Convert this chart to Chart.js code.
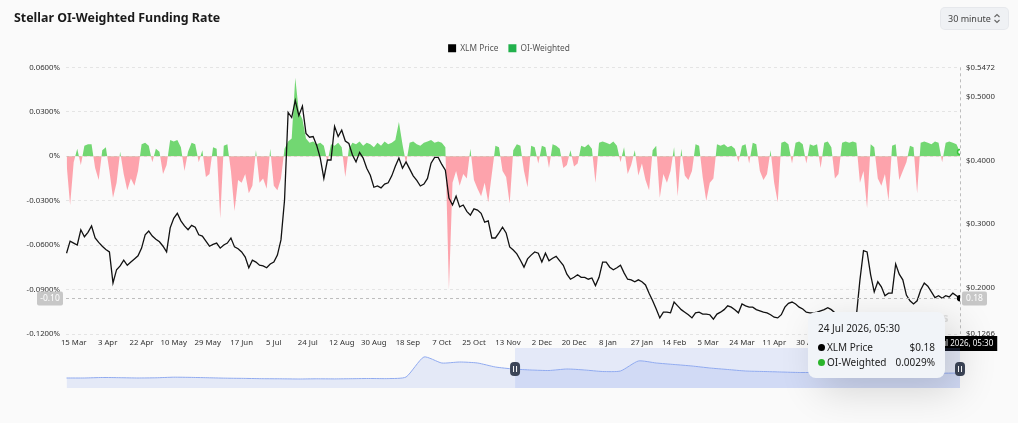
<!DOCTYPE html>
<html><head><meta charset="utf-8">
<script src="https://cdn.jsdelivr.net/npm/chart.js@4.4.1/dist/chart.umd.min.js"></script>
<style>
html,body{margin:0;padding:0;background:#fafafa;width:1018px;height:423px;overflow:hidden;font-family:"Noto Sans",sans-serif;}
#wrap{position:relative;width:1018px;height:423px;}
#main{position:absolute;left:0;top:0;}
#nav{position:absolute;left:56px;top:348px;}
#title{position:absolute;left:14px;top:9px;font-size:12.4px;font-weight:700;color:#1a1a1a;}
#sel{position:absolute;left:941px;top:8px;width:67px;height:21px;border-radius:4px;background:#eff1f4;box-shadow:0 0 0 1px #e6e8ec;box-sizing:border-box;font-size:9px;color:#444;line-height:21px;padding-left:7px;}
#sel svg{position:absolute;right:7px;top:5px;}
#wm{position:absolute;left:893px;top:309px;font-size:12px;font-weight:700;color:#dedede;}
#tip{position:absolute;left:808px;top:312px;width:137px;height:66px;border-radius:8px;background:#f1f4f8;box-shadow:12px 12px 40px rgba(0,0,0,0.16);box-sizing:border-box;padding:8px 10px 0 10px;font-size:10px;color:#222;}
#tip .d{height:16px;line-height:16px;margin-bottom:4px;}
#tip .r{position:relative;height:15px;line-height:15px;padding-left:9px;}
#tip .dot{position:absolute;left:0;top:4px;width:7px;height:7px;border-radius:50%;}
#tip .v{position:absolute;right:0;top:0;}
</style></head>
<body><div id="wrap">
<canvas id="main" width="1018" height="423"></canvas>
<canvas id="nav" width="914" height="40"></canvas>
<div id="title">Stellar OI-Weighted Funding Rate</div>
<div id="sel">30 minute<svg width="8" height="11" viewBox="0 0 8 11"><path d="M1.5 4 L4 1.5 L6.5 4" fill="none" stroke="#666" stroke-width="1.1"/><path d="M1.5 7 L4 9.5 L6.5 7" fill="none" stroke="#666" stroke-width="1.1"/></svg></div>
<div id="wm">coinglass</div>
<div id="tip">
 <div class="d" id="tipDate"></div>
 <div class="r"><span class="dot" style="background:#000"></span>XLM Price<span class="v" id="tipPrice"></span></div>
 <div class="r"><span class="dot" style="background:#2bb52b"></span>OI-Weighted<span class="v" id="tipFund"></span></div>
</div>
</div>
<script>
// ---- data (day offsets counted from 15 Mar 2025) ----
const startDay = -4;
const stepDays = 2;
const xTickLabels = ['15 Mar','3 Apr','22 Apr','10 May','29 May','17 Jun','5 Jul','24 Jul','12 Aug','30 Aug','18 Sep','7 Oct','25 Oct','13 Nov','2 Dec','20 Dec','8 Jan','27 Jan','14 Feb','5 Mar','24 Mar','11 Apr','30 Apr','19 May','7 Jun','26 Jun','15 Jul'];
const xTickDays = [0,19,38,56,75,94,112,131,150,168,187,206,224,243,262,280,299,318,336,355,374,392,411,430,449,468,487];
const priceTicks = [0.1266,0.2,0.3,0.4,0.5,0.5472];
const lastLabel = '24 Jul 2026, 05:30';

const xlmPrice = [
.254,.273,.270,.267,.291,.280,.287,.297,.278,.271,
.265,.260,.256,.207,.228,.234,.243,.235,.240,.245,
.250,.262,.283,.289,.281,.276,.272,.265,.256,.294,
.309,.317,.305,.297,.291,.298,.295,.283,.281,.273,
.265,.268,.270,.262,.267,.270,.278,.264,.261,.256,
.248,.231,.243,.240,.235,.234,.231,.237,.240,.251,
.275,.338,.476,.468,.495,.471,.486,.443,.437,.438,
.424,.404,.372,.401,.401,.454,.438,.448,.431,.427,
.409,.398,.413,.404,.388,.377,.358,.360,.357,.363,
.365,.376,.391,.404,.388,.398,.387,.376,.369,.360,
.363,.372,.396,.405,.405,.394,.385,.341,.330,.344,
.327,.330,.320,.314,.324,.322,.317,.303,.305,.278,
.278,.286,.295,.286,.264,.259,.253,.243,.232,.245,
.251,.256,.254,.240,.254,.242,.246,.249,.242,.235,
.221,.213,.216,.220,.216,.216,.213,.215,.203,.216,
.240,.240,.232,.228,.231,.235,.223,.213,.212,.209,
.212,.209,.204,.191,.179,.166,.152,.161,.161,.160,
.177,.171,.165,.161,.157,.152,.160,.161,.158,.158,
.157,.150,.158,.161,.165,.171,.169,.165,.160,.174,
.171,.169,.169,.165,.163,.161,.160,.157,.153,.152,
.157,.169,.175,.177,.174,.169,.166,.161,.160,.160,
.161,.163,.165,.168,.165,.160,.155,.152,.150,.149,
.152,.155,.212,.258,.256,.220,.193,.209,.201,.187,
.191,.191,.237,.221,.212,.188,.179,.174,.179,.196,
.207,.202,.193,.184,.187,.183,.187,.185,.191,.187,
.183];

const oiWeighted = [
-0.005,-0.033,-0.004,0.005,-0.006,0.007,0.008,0.008,-0.008,-0.016,
0.004,0.006,-0.010,-0.028,-0.018,0.003,-0.012,-0.023,-0.015,-0.020,
-0.010,0.008,0.009,0.007,-0.004,0.005,0.003,-0.012,-0.006,0.011,
0.010,0.011,0.006,-0.010,0.003,0.009,0.008,-0.004,0.004,-0.014,
-0.012,0.006,0.005,-0.042,0.007,0.008,-0.010,-0.037,-0.016,-0.018,
-0.012,-0.025,-0.020,0.004,-0.018,-0.015,-0.022,0.005,-0.020,-0.023,
-0.015,0.005,0.010,0.012,0.053,0.030,0.025,0.012,0.009,0.010,
0.008,0.009,0.007,-0.004,0.008,0.007,0.009,0.006,-0.014,0.005,
0.009,0.008,0.010,0.007,0.009,0.008,0.006,0.009,0.007,0.010,
0.008,0.009,0.011,0.023,0.008,-0.005,0.009,0.010,0.008,0.007,
0.009,0.010,0.011,0.009,0.010,0.009,0.006,-0.090,-0.018,-0.010,
-0.020,-0.012,-0.015,0.005,-0.016,-0.022,-0.027,-0.018,-0.031,-0.012,
0.007,0.006,-0.010,-0.014,-0.032,0.004,0.008,0.007,-0.010,-0.021,
0.007,0.006,-0.005,0.007,0.006,-0.008,0.008,0.007,0.005,-0.008,
-0.006,0.004,-0.007,-0.005,0.007,0.006,0.008,0.005,-0.018,0.009,
0.010,0.009,0.008,0.010,0.007,-0.004,0.006,-0.012,-0.006,0.004,
-0.013,-0.005,-0.016,-0.023,0.004,0.007,-0.028,-0.012,-0.018,-0.010,
0.006,-0.027,0.005,-0.013,-0.016,-0.010,0.008,0.007,-0.014,-0.030,
-0.018,-0.015,0.008,0.007,0.008,0.006,0.007,0.005,-0.004,0.007,
0.008,-0.005,0.009,0.008,-0.010,-0.016,-0.012,0.004,-0.018,-0.031,
0.009,0.010,0.008,-0.005,0.009,0.010,0.008,-0.005,0.008,0.007,
0.008,-0.008,0.009,0.010,0.006,-0.015,-0.012,0.009,0.010,0.009,
0.010,0.009,-0.018,-0.010,-0.035,0.008,0.006,-0.015,-0.020,-0.012,
-0.030,0.007,0.008,-0.016,-0.010,-0.004,0.007,0.006,-0.025,0.009,
0.010,0.009,0.008,0.010,0.009,-0.004,0.009,0.010,0.009,0.008,
0.0029];

// navigator overview series (every 10 days)
const navStep = 10;
const navValues = [10,10,10.5,10.3,10,10.2,10.8,10.6,10.2,9.8,
9.6,9.3,9.2,9.0,9.2,9.1,9.3,9.5,9.4,11,
31,25,26,25,21,19,18,17.5,19,18,
16.5,17,27,25,23.5,22,20,18.5,17,16.5,
16,15.5,15.5,15,15.5,15.2,15,15.3,15,14.8,15];
const navSelection = [247, 496];

// ---- build ----
const FONT = '"Noto Sans", sans-serif';
const xMin = -4.3, xMax = 496;
const last = xlmPrice.length - 1;
const pricePts = xlmPrice.map((v,i)=>({x:startDay+i*stepDays, y:v}));
const fundPts = oiWeighted.map((v,i)=>({x:startDay+i*stepDays, y:v}));

document.getElementById('tipDate').textContent = lastLabel;
document.getElementById('tipPrice').textContent = '$' + xlmPrice[last].toFixed(2);
document.getElementById('tipFund').textContent = oiWeighted[last].toFixed(4) + '%';

const legendSpace = {id:'legendSpace', afterInit(chart){
  const lg = chart.legend; if(!lg) return;
  const fit = lg.fit;
  lg.fit = function(){ fit.call(this); this.height += 5; };
}};

function rr(ctx,x,y,w,h,r){ctx.beginPath();ctx.roundRect(x,y,w,h,r);ctx.fill();}

const crosshair = {id:'crosshair', afterDatasetsDraw(chart){
  const {ctx, chartArea:a, scales} = chart;
  const x = Math.round(scales.x.getPixelForValue(pricePts[last].x)) + 0.5;
  const y = Math.round(scales.yPrice.getPixelForValue(pricePts[last].y)) + 0.5;
  ctx.save();
  ctx.setLineDash([3,3]); ctx.strokeStyle = '#bdbdbd'; ctx.lineWidth = 1;
  ctx.beginPath(); ctx.moveTo(a.left, y); ctx.lineTo(a.right, y); ctx.stroke();
  ctx.beginPath(); ctx.moveTo(x, a.top); ctx.lineTo(x, a.bottom); ctx.stroke();
  ctx.setLineDash([]);
  ctx.font = '8.5px ' + FONT; ctx.textAlign = 'center'; ctx.textBaseline = 'middle';
  const lv = scales.yFund.getValueForPixel(y).toFixed(2);
  const rv = pricePts[last].y.toFixed(2);
  ctx.fillStyle = 'rgba(196,196,196,0.95)';
  rr(ctx, a.left - 29, y - 7, 26, 14, 2);
  rr(ctx, a.right + 2, y - 7, 25, 14, 2);
  ctx.fillStyle = '#fff';
  ctx.fillText(lv, a.left - 16, y + 0.5);
  ctx.fillText(rv, a.right + 14.5, y + 0.5);
  ctx.font = '8px ' + FONT;
  const w = ctx.measureText(lastLabel).width + 8;
  ctx.fillStyle = '#000';
  ctx.fillRect(x - w/2, a.bottom + 2, w, 15);
  ctx.fillStyle = '#fff';
  ctx.fillText(lastLabel, x, a.bottom + 9.5);
  ctx.restore();
}};

const lastPt = c => c.dataIndex === last ? 2.5 : 0;

new Chart(document.getElementById('main'), {
  type:'line',
  data:{datasets:[
    {label:'XLM Price', data:pricePts, yAxisID:'yPrice', borderColor:'#111', backgroundColor:'#000', borderWidth:1.3,
     pointRadius:lastPt, pointBackgroundColor:'#000', pointBorderColor:'#000', tension:0, order:0},
    {label:'OI-Weighted', data:fundPts, yAxisID:'yFund', borderWidth:0, borderColor:'rgba(0,0,0,0)', backgroundColor:'#2bb52b',
     fill:{target:'origin', above:'rgba(94,210,94,0.88)', below:'rgba(255,110,124,0.62)'},
     pointRadius:lastPt, pointBackgroundColor:'#fff', pointBorderColor:'#3cc43c', pointBorderWidth:1.5, tension:0, order:1}
  ]},
  options:{
    responsive:false, animation:false, devicePixelRatio:1,
    layout:{padding:{top:34, bottom:69, left:0, right:0}},
    plugins:{
      tooltip:{enabled:false},
      legend:{display:true, position:'top', align:'center',
        labels:{boxWidth:8, boxHeight:8, padding:10, color:'#555', font:{size:8.3, family:FONT},
          generateLabels(){ return [
            {text:'XLM Price', fillStyle:'#000', strokeStyle:'#000', lineWidth:0, fontColor:'#555', datasetIndex:0, hidden:false},
            {text:'OI-Weighted', fillStyle:'#22b14c', strokeStyle:'#22b14c', lineWidth:0, fontColor:'#555', datasetIndex:1, hidden:false}]; }}}
    },
    scales:{
      x:{type:'linear', min:xMin, max:xMax, grid:{display:false, drawTicks:false}, border:{display:false},
        afterBuildTicks(s){ s.ticks = xTickDays.map(v=>({value:v})); },
        afterFit(s){ s.height = 20; },
        ticks:{autoSkip:false, maxRotation:0, padding:4, color:'#333', font:{size:7.8, family:FONT},
          callback(v){ const k = xTickDays.indexOf(v); return k >= 0 ? xTickLabels[k] : ''; }}},
      yFund:{position:'left', min:-0.12, max:0.06,
        grid:{color:'#e4e4e4', drawTicks:false}, border:{display:false, dash:[3,3]},
        afterFit(s){ s.width = 66; },
        ticks:{stepSize:0.03, padding:6, color:'#333', font:{size:7.8, family:FONT},
          callback(v){ return Math.abs(v) < 1e-9 ? '0%' : v.toFixed(4) + '%'; }}},
      yPrice:{position:'right', min:priceTicks[0], max:priceTicks[priceTicks.length-1],
        grid:{display:false, drawTicks:false}, border:{display:false},
        afterBuildTicks(s){ s.ticks = priceTicks.map(v=>({value:v})); },
        afterFit(s){ s.width = 58; },
        ticks:{padding:6, color:'#333', font:{size:7.8, family:FONT}, callback(v){ return '$' + v.toFixed(4); }}}
    }
  },
  plugins:[legendSpace, crosshair]
});

// ---- navigator ----
const navPts = navValues.map((v,i)=>({x:startDay+i*navStep, y:v}));
const navDeco = {id:'navDeco',
  beforeDatasetsDraw(chart){
    const {ctx, chartArea:a, scales} = chart;
    const x0 = scales.x.getPixelForValue(navSelection[0]);
    const x1 = scales.x.getPixelForValue(navSelection[1]);
    ctx.save(); ctx.fillStyle = 'rgba(120,150,235,0.17)';
    ctx.fillRect(x0, a.top, x1 - x0, a.bottom - a.top); ctx.restore();
  },
  afterDraw(chart){
    const {ctx, scales} = chart;
    ctx.save();
    navSelection.forEach(d=>{
      const x = scales.x.getPixelForValue(d);
      ctx.fillStyle = '#3d4658';
      ctx.beginPath(); ctx.roundRect(x - 5, 14, 10, 14, 4); ctx.fill();
      ctx.strokeStyle = '#fff'; ctx.lineWidth = 1;
      ctx.beginPath(); ctx.moveTo(x - 1.5, 18); ctx.lineTo(x - 1.5, 24); ctx.moveTo(x + 1.5, 18); ctx.lineTo(x + 1.5, 24); ctx.stroke();
    });
    ctx.restore();
  }};
new Chart(document.getElementById('nav'), {
  type:'line',
  data:{datasets:[{data:navPts, borderColor:'#90aaef', borderWidth:1, backgroundColor:'rgba(120,150,235,0.16)', fill:'origin', pointRadius:0, tension:0.2}]},
  options:{responsive:false, animation:false, devicePixelRatio:1,
    layout:{padding:{left:10, right:10, top:0, bottom:0}},
    plugins:{legend:{display:false}, tooltip:{enabled:false}},
    scales:{x:{type:'linear', min:xMin, max:xMax, display:false}, y:{min:0, max:40, display:false}}},
  plugins:[navDeco]
});
</script>
</body></html>
